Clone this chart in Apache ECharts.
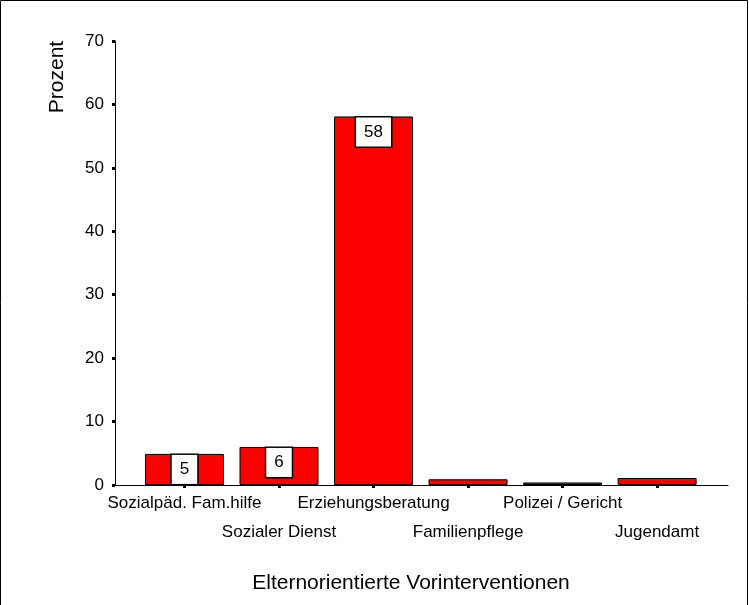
<!DOCTYPE html>
<html><head><meta charset="utf-8">
<script src="https://cdn.jsdelivr.net/npm/echarts@6/dist/echarts.min.js"></script>
<style>html,body{margin:0;padding:0;background:#fff}#c{width:749px;height:605px}</style>
</head><body><div id="c"></div>
<script>
const categories = ['Sozialpäd. Fam.hilfe','Sozialer Dienst','Erziehungsberatung','Familienpflege','Polizei / Gericht','Jugendamt'];
const values = [4.9, 6.0, 58.1, 0.9, 0.4, 1.1];
const shownLabels = ['5','6','58',null,null,null];
const yTicks = [0,10,20,30,40,50,60,70];

const FONT = 'Liberation Sans, Arial, sans-serif';
const chart = echarts.init(document.getElementById('c'), null, {renderer:'canvas'});
const idx = categories.map((c,i)=>i);
const evenIdx = idx.filter(i=>i%2===0);
const oddIdx = idx.filter(i=>i%2===1);
const catLabel = function(v){const t=categories[Math.round(v)]; return t===undefined?'':t;};
const XMIN = -0.735, XMAX = 5.75;
chart.setOption({
  animation:false,
  backgroundColor:'#fff',
  grid:{left:115,right:21,top:41,bottom:120,containLabel:false},
  xAxis:[{
    type:'value', min:XMIN, max:XMAX, position:'bottom',
    name:'Elternorientierte Vorinterventionen', nameLocation:'middle', nameGap:88,
    nameTextStyle:{fontFamily:FONT,fontSize:21,color:'#000',padding:[0,21,0,0]},
    axisLine:{show:true,onZero:false,lineStyle:{color:'#000',width:1}},
    axisTick:{show:true,customValues:idx,length:3,inside:false,lineStyle:{color:'#000',width:3}},
    axisLabel:{show:true,customValues:evenIdx,margin:10,fontFamily:FONT,fontSize:17,color:'#000',
      hideOverlap:false, formatter:catLabel},
    splitLine:{show:false}
  },{
    type:'value', min:XMIN, max:XMAX, position:'bottom', offset:29,
    axisLine:{show:false,onZero:false},
    axisTick:{show:false},
    axisLabel:{show:true,customValues:oddIdx,margin:10,fontFamily:FONT,fontSize:17,color:'#000',
      hideOverlap:false, formatter:catLabel},
    splitLine:{show:false}
  }],
  yAxis:{
    type:'value', min:0, max:70, interval:10,
    axisLine:{show:true,onZero:false,lineStyle:{color:'#000',width:1}},
    axisTick:{show:true,length:3,lineStyle:{color:'#000',width:3}},
    axisLabel:{fontFamily:FONT,fontSize:17,color:'#000',margin:11,
      formatter:function(v){return yTicks.indexOf(v)>=0?String(v):'';}},
    splitLine:{show:false}
  },
  series:[{
    type:'bar', barWidth:79, xAxisIndex:0,
    itemStyle:{color:'#ff0000',borderColor:'#000',borderWidth:1},
    data: values.map((v,i)=>({
      value:[i,v],
      label: shownLabels[i]===null ? {show:false} : {
        show:true, position:'insideTop', distance:1,
        formatter:shownLabels[i],
        fontFamily:FONT,fontSize:17,color:'#000',lineHeight:17,
        backgroundColor:'#fff',borderColor:'#000',borderWidth:1.5,
        padding:[6,8,6,8]
      }
    }))
  }],
  graphic:[
    {type:'rect',shape:{x:0.5,y:0.5,width:747,height:610},style:{fill:'none',stroke:'#000',lineWidth:1},silent:true},
    {type:'text',x:57,y:77,rotation:Math.PI/2,style:{text:'Prozent',fontFamily:FONT,fontSize:21,fill:'#000',align:'center',verticalAlign:'middle'}}
  ]
});
</script></body></html>
